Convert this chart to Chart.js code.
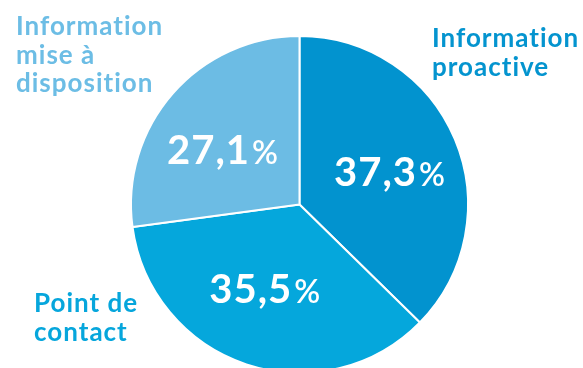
<!DOCTYPE html>
<html>
<head>
<meta charset="utf-8">
<script src="https://cdn.jsdelivr.net/npm/chart.js@4"></script>
<style>
  html, body { margin: 0; padding: 0; background: #ffffff; overflow: hidden; }
  #wrap { width: 583px; height: 368px; overflow: hidden; }
</style>
</head>
<body>
<div id="wrap"><canvas id="chart" width="583" height="412"></canvas></div>
<script>
// Data
const categories = ["Information proactive", "Point de contact", "Information mise à disposition"];
const shares = [37.3, 35.5, 27.1];
const sliceColors = ["#0293cf", "#05a7dc", "#6cbce4"];
const labelColors = ["#0494cf", "#06a6dc", "#6cbde5"];

// small nudges for the value labels, px
const valueNudge = [[3, 4], [-5, -5], [-6, 8]];

// Outside category labels (split over lines, anchor in px)
const categoryLines = [
  { lines: ["Information", "proactive"], x: 432, y: 47 },
  { lines: ["Point de", "contact"], x: 34, y: 312 },
  { lines: ["Information", "mise à", "disposition"], x: 16, y: 35 },
];

function formatShare(v) {
  return v.toFixed(1).replace(".", ",");
}

const labelPlugin = {
  id: "pieLabels",
  afterDraw(chart) {
    const ctx = chart.ctx;
    const meta = chart.getDatasetMeta(0);
    ctx.save();
    ctx.textBaseline = "alphabetic";
    ctx.textAlign = "left";

    // Percent values inside each slice
    meta.data.forEach((arc, i) => {
      const mid = (arc.startAngle + arc.endAngle) / 2;
      const r = arc.outerRadius * 0.56;
      const cx = arc.x + Math.cos(mid) * r + valueNudge[i][0];
      const cy = arc.y + Math.sin(mid) * r + valueNudge[i][1];

      const num = formatShare(shares[i]);
      ctx.letterSpacing = "1px";
      ctx.font = "bold 40px Lato";
      const numW = ctx.measureText(num).width;
      ctx.letterSpacing = "0px";
      ctx.font = "600 32px Lato";
      const pctW = ctx.measureText("%").width;
      const gap = 2;
      const startX = cx - (numW + gap + pctW) / 2;
      const baseY = cy + 14;

      ctx.fillStyle = "#ffffff";
      ctx.letterSpacing = "1px";
      ctx.font = "bold 40px Lato";
      ctx.fillText(num, startX, baseY);
      ctx.letterSpacing = "0px";
      ctx.font = "600 32px Lato";
      ctx.fillText("%", startX + numW + gap, baseY);
    });

    // Category names outside the pie
    ctx.letterSpacing = "1px";
    ctx.font = "bold 26px Lato";
    categoryLines.forEach((lbl, i) => {
      ctx.fillStyle = labelColors[i];
      lbl.lines.forEach((line, j) => {
        ctx.fillText(line, lbl.x, lbl.y + j * 28.5);
      });
    });

    ctx.restore();
  },
};

new Chart(document.getElementById("chart").getContext("2d"), {
  type: "pie",
  data: {
    labels: categories,
    datasets: [
      {
        data: shares,
        backgroundColor: sliceColors,
        borderColor: "#ffffff",
        borderWidth: 2,
      },
    ],
  },
  options: {
    responsive: false,
    animation: false,
    layout: {
      padding: { top: 35, bottom: 38, left: 16, right: 0 },
    },
    plugins: {
      legend: { display: false },
      tooltip: { enabled: false },
    },
  },
  plugins: [labelPlugin],
});
</script>
</body>
</html>
